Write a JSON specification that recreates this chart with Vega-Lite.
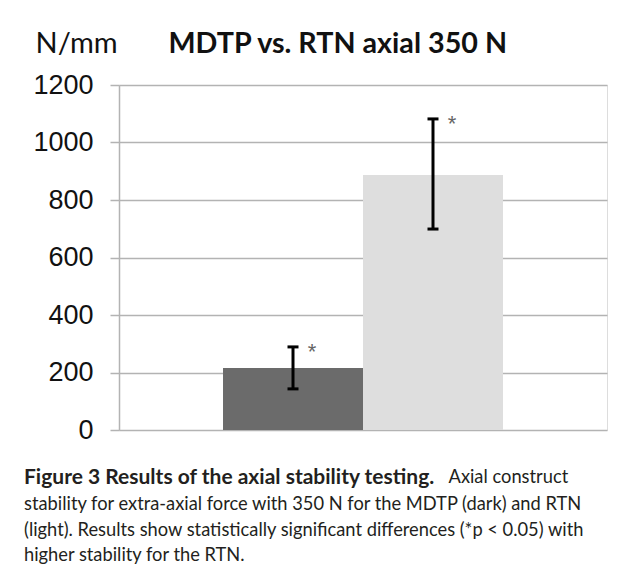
{
  "$schema": "https://vega.github.io/schema/vega-lite/v6.json",
  "width": 488,
  "height": 345,
  "autosize": {"type": "none"},
  "padding": {"left": 119, "top": 85, "right": 22, "bottom": 137},
  "background": "white",
  "data": {
    "values": [
      {"group": "MDTP", "value": 216, "low": 143, "high": 289},
      {"group": "RTN", "value": 887, "low": 699, "high": 1082}
    ]
  },
  "title": {
    "text": "Figure 3 Results of the axial stability testing.",
    "subtitle": [
      "stability for extra-axial force with 350 N for the MDTP (dark) and RTN",
      "(light). Results show statistically significant differences (*p < 0.05) with",
      "higher stability for the RTN."
    ],
    "orient": "bottom",
    "anchor": "start",
    "frame": "group",
    "dx": -95,
    "dy": 0,
    "offset": -18,
    "font": "Lato",
    "fontSize": 21,
    "fontWeight": "bold",
    "color": "#231f20",
    "subtitleFont": "Lato",
    "subtitleFontSize": 18.3,
    "subtitleFontWeight": "normal",
    "subtitleColor": "#231f20",
    "subtitleLineHeight": 25.5,
    "subtitlePadding": 8
  },
  "layer": [
    {
      "mark": {"type": "bar"},
      "encoding": {
        "x": {
          "field": "group",
          "type": "nominal",
          "sort": ["MDTP", "RTN"],
          "scale": {"paddingInner": 0, "paddingOuter": 0.743},
          "axis": {
            "orient": "top",
            "labels": false,
            "ticks": false,
            "domain": false,
            "grid": false,
            "title": "MDTP vs. RTN axial 350 N",
            "titleAngle": 0,
            "titleAlign": "left",
            "titleAnchor": null,
            "titleBaseline": "alphabetic",
            "titleX": 49,
            "titleY": -33,
            "titleFont": "Lato",
            "titleFontSize": 28.7,
            "titleFontWeight": "bold",
            "titleColor": "#111111"
          }
        },
        "y": {
          "field": "value",
          "type": "quantitative",
          "scale": {"domain": [0, 1200], "nice": false},
          "axis": {
            "values": [0, 200, 400, 600, 800, 1000, 1200],
            "format": "d",
            "grid": true,
            "gridColor": "#b3b3b3",
            "gridWidth": 1.5,
            "domainColor": "#b3b3b3",
            "domainWidth": 1.5,
            "tickColor": "#b3b3b3",
            "tickWidth": 1.5,
            "tickSize": 9,
            "labelFont": "Liberation Sans",
            "labelFontSize": 27,
            "labelColor": "#111111",
            "labelPadding": 17,
            "labelOverlap": false,
            "title": "N/mm",
            "titleAngle": 0,
            "titleAlign": "left",
            "titleAnchor": null,
            "titleBaseline": "alphabetic",
            "titleX": -84,
            "titleY": -33,
            "titleFont": "Lato",
            "titleFontSize": 29,
            "titleFontWeight": "normal",
            "titleColor": "#111111"
          }
        },
        "color": {
          "field": "group",
          "type": "nominal",
          "scale": {"domain": ["MDTP", "RTN"], "range": ["#6b6b6b", "#dedede"]},
          "legend": null
        }
      }
    },
    {
      "encoding": {
        "x": {"field": "group", "type": "nominal", "sort": ["MDTP", "RTN"]}
      },
      "layer": [
        {
          "mark": {"type": "rule", "color": "#000000", "strokeWidth": 3},
          "encoding": {
            "y": {
              "field": "low",
              "type": "quantitative",
              "scale": {"domain": [0, 1200], "nice": false},
              "axis": {
                "orient": "right",
                "labels": false,
                "ticks": false,
                "domain": false,
                "grid": false,
                "title": "Axial construct",
                "titleAngle": 0,
                "titleAlign": "left",
                "titleAnchor": null,
                "titleBaseline": "alphabetic",
                "titleX": -159,
                "titleY": 397,
                "titleFont": "Lato",
                "titleFontSize": 18.3,
                "titleFontWeight": "normal",
                "titleColor": "#231f20"
              }
            },
            "y2": {"field": "high"}
          }
        },
        {
          "mark": {"type": "tick", "color": "#000000", "thickness": 3, "size": 11, "opacity": 1},
          "encoding": {"y": {"field": "low", "type": "quantitative"}}
        },
        {
          "mark": {"type": "tick", "color": "#000000", "thickness": 3, "size": 11, "opacity": 1},
          "encoding": {"y": {"field": "high", "type": "quantitative"}}
        },
        {
          "mark": {"type": "text", "text": "*", "dx": 19, "dy": 12, "fontSize": 22, "font": "Liberation Sans", "color": "#666666", "align": "center", "baseline": "alphabetic"},
          "encoding": {"y": {"field": "high", "type": "quantitative"}}
        }
      ]
    }
  ],
  "resolve": {"scale": {"y": "independent"}}
}
